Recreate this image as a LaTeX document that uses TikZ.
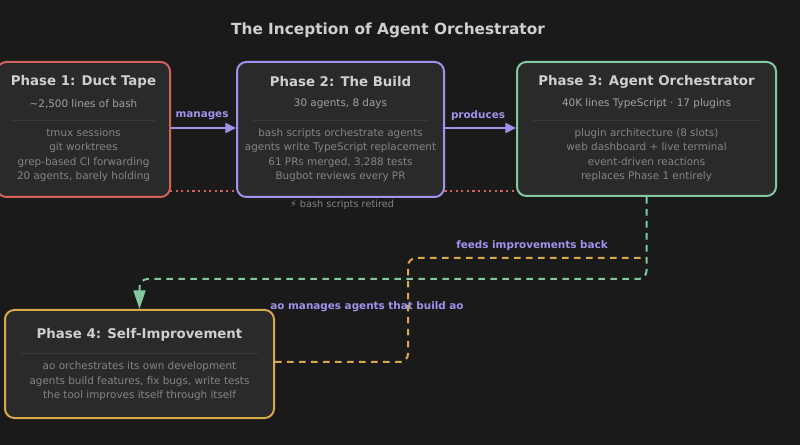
\documentclass[tikz,border=0pt]{standalone}
\usepackage{fontspec}
\setmainfont{DejaVu Sans}
\usetikzlibrary{arrows.meta}
\definecolor{bg}{HTML}{1A1A1A}
\definecolor{boxfill}{HTML}{2A2A2A}
\definecolor{sepline}{HTML}{3A3A3A}
\definecolor{titlegray}{HTML}{CFCFCF}
\definecolor{subgray}{HTML}{A2A2A2}
\definecolor{bodygray}{HTML}{858585}
\definecolor{redline}{HTML}{D2625C}
\definecolor{purpline}{HTML}{A192EC}
\definecolor{greenline}{HTML}{82C9A0}
\definecolor{goldline}{HTML}{D8AA4C}
\tikzset{
  phase/.style={draw=#1, fill=boxfill, line width=1.5pt, rounded corners=7pt, inner sep=0pt},
  phasetitle/.style={text=titlegray, font=\fontsize{10}{12}\selectfont\bfseries},
  phasesub/.style={text=subgray, font=\fontsize{7.8}{10}\selectfont},
  phasebody/.style={text=bodygray, align=center, font=\fontsize{7.8}{10.9}\selectfont},
  flowlabel/.style={text=purpline, font=\fontsize{7.8}{10}\selectfont\bfseries},
  sep/.style={draw=sepline, line width=0.6pt}
}

\begin{document}
\begin{tikzpicture}[x=0.75pt, y=-0.75pt]
    \useasboundingbox[fill=bg] (0,0) rectangle (800,445);

    \node[text=titlegray, font=\fontsize{11.5}{14}\selectfont\bfseries] (title) at (388,30) {The Inception of Agent Orchestrator};

    \draw[redline, line width=1.1pt, dash pattern=on 1.6pt off 2.6pt] (170,191) -- (517,191);

    \node[phase=redline, minimum width=173*0.75pt, minimum height=135*0.75pt] (p1) at (83.5,129.5) {};
    \node[phasetitle] (p1title) at (83.5,82) {Phase 1: Duct Tape};
    \node[phasesub] (p1sub) at (83.5,104) {\textasciitilde 2,500 lines of bash};
    \draw[sep] (12,120) -- (155,120);
    \node[phasebody] (p1body) at (83.5,155) {tmux sessions\\git worktrees\\grep-based CI forwarding\\20 agents, barely holding};

    \node[phase=purpline, minimum width=207*0.75pt, minimum height=135*0.75pt] (p2) at (340.5,129.5) {};
    \node[phasetitle] (p2title) at (340.5,82) {Phase 2: The Build};
    \node[phasesub] (p2sub) at (340.5,104) {30 agents, 8 days};
    \draw[sep] (253,120) -- (428,120);
    \node[phasebody] (p2body) at (340.5,155) {bash scripts orchestrate agents\\agents write TypeScript replacement\\61 PRs merged, 3,288 tests\\Bugbot reviews every PR};

    \node[phase=greenline, minimum width=259*0.75pt, minimum height=134*0.75pt] (p3) at (646.5,129) {};
    \node[phasetitle] (p3title) at (646.5,82) {Phase 3: Agent Orchestrator};
    \node[phasesub] (p3sub) at (646.5,104) {40K lines TypeScript · 17 plugins};
    \draw[sep] (533,120) -- (760,120);
    \node[phasebody] (p3body) at (646.5,155) {plugin architecture (8 slots)\\web dashboard + live terminal\\event-driven reactions\\replaces Phase 1 entirely};

    \node[phase=goldline, minimum width=269*0.75pt, minimum height=108*0.75pt] (p4) at (139.5,364) {};
    \node[phasetitle] (p4title) at (139.5,335) {Phase 4: Self-Improvement};
    \draw[sep] (20,353) -- (258,353);
    \node[phasebody] (p4body) at (139.5,381.5) {ao orchestrates its own development\\agents build features, fix bugs, write tests\\the tool improves itself through itself};

    \node[text=bodygray, font=\fontsize{7.3}{9}\selectfont] (retired) at (342,205) {⚡ bash scripts retired};

    \draw[purpline, line width=1.5pt, -{Triangle[length=8pt, width=7.5pt]}] (p1.east |- 0,128) -- (p2.west |- 0,128);
    \node[flowlabel] (manages) at (202,116) {manages};
    \draw[purpline, line width=1.5pt, -{Triangle[length=8pt, width=7.5pt]}] (p2.east |- 0,128) -- (p3.west |- 0,128);
    \node[flowlabel] (produces) at (478,116) {produces};

    \coordinate (loopcorner) at (408,362);
    \coordinate (looptop) at (408,258);
    \draw[goldline, line width=1.5pt, dash pattern=on 5pt off 4pt, rounded corners=6pt] (p4.east |- loopcorner) -- (loopcorner) -- (looptop) -- (p3.south |- looptop);
    \node[flowlabel] (aolabel) at (367,307) {ao manages agents that build ao};

    \coordinate (backturn) at (646.5,279);
    \draw[greenline, line width=1.5pt, dash pattern=on 5pt off 4pt, rounded corners=6pt, -{Triangle[length=14pt, width=9pt]}] (p3.south) -- (backturn) -- (p4.north |- backturn) -- (p4.north);
    \node[flowlabel] (feedslabel) at (532,246) {feeds improvements back};
\end{tikzpicture}
\end{document}
